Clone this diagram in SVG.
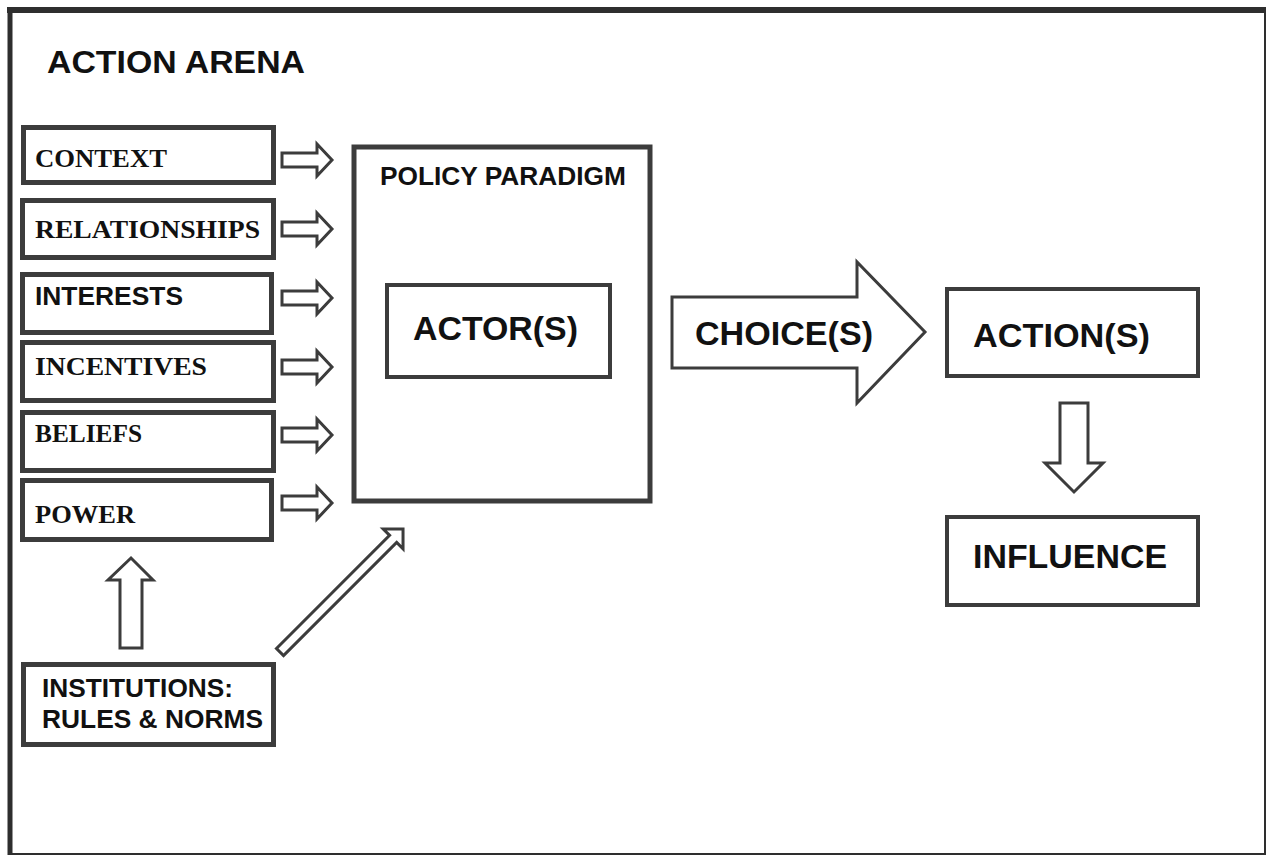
<svg xmlns="http://www.w3.org/2000/svg" width="1266" height="855" viewBox="0 0 1266 855">
<style>
.box{fill:#fff;stroke:#3c3c3c;stroke-width:5}
.box4{fill:#fff;stroke:#3c3c3c;stroke-width:4}
.arr{fill:#fff;stroke:#3c3c3c;stroke-width:3;stroke-linejoin:miter}
.frame{stroke:#2e2e2e;fill:none}
.sans{font-family:"Liberation Sans",Arial,sans-serif;font-weight:bold;fill:#111}
.serif{font-family:"Liberation Serif","Times New Roman",serif;font-weight:bold;fill:#111}
</style>
<rect x="0" y="0" width="1266" height="855" fill="#fff"/>
<g id="frame">
<line class="frame" x1="7" y1="10" x2="1266" y2="10" stroke-width="6"/>
<line class="frame" x1="10" y1="7" x2="10" y2="855" stroke-width="5"/>
<line class="frame" x1="1265" y1="10" x2="1265" y2="855" stroke-width="2"/>
<line class="frame" x1="10" y1="854" x2="1266" y2="854" stroke-width="2" stroke="#555"/>
<text class="sans" x="47" y="73" font-size="32" textLength="258" lengthAdjust="spacingAndGlyphs">ACTION ARENA</text>
</g>
<g id="context">
<rect class="box" x="23.5" y="127.5" width="250" height="55"/>
<text class="serif" x="35" y="167" font-size="25" textLength="132" lengthAdjust="spacingAndGlyphs">CONTEXT</text>
</g>
<g id="relationships">
<rect class="box" x="22.5" y="200.5" width="251" height="57"/>
<text class="serif" x="35" y="238" font-size="25" textLength="225" lengthAdjust="spacingAndGlyphs">RELATIONSHIPS</text>
</g>
<g id="interests">
<rect class="box" x="22.5" y="274.5" width="249" height="58"/>
<text class="sans" x="35" y="305" font-size="25" textLength="148" lengthAdjust="spacingAndGlyphs">INTERESTS</text>
</g>
<g id="incentives">
<rect class="box" x="22.5" y="342.5" width="251" height="58"/>
<text class="serif" x="35" y="375" font-size="25" textLength="172" lengthAdjust="spacingAndGlyphs">INCENTIVES</text>
</g>
<g id="beliefs">
<rect class="box" x="22.5" y="412.5" width="251" height="58"/>
<text class="serif" x="35" y="442" font-size="25" textLength="107" lengthAdjust="spacingAndGlyphs">BELIEFS</text>
</g>
<g id="power">
<rect class="box" x="22.5" y="480.5" width="249" height="59"/>
<text class="serif" x="35" y="523" font-size="25" textLength="100" lengthAdjust="spacingAndGlyphs">POWER</text>
</g>
<g id="institutions">
<rect class="box" x="23.5" y="664.5" width="250" height="80"/>
<text class="sans" x="42" y="697" font-size="26" textLength="191" lengthAdjust="spacingAndGlyphs">INSTITUTIONS:</text>
<text class="sans" x="42" y="728" font-size="26" textLength="221" lengthAdjust="spacingAndGlyphs">RULES &amp; NORMS</text>
</g>
<g id="policy-paradigm">
<rect class="box" x="354" y="147" width="296" height="354" stroke-width="4.5"/>
<text class="sans" x="380" y="185" font-size="25" textLength="246" lengthAdjust="spacingAndGlyphs">POLICY PARADIGM</text>
</g>
<g id="actors">
<rect class="box4" x="387" y="285" width="223" height="92"/>
<text class="sans" x="413" y="340" font-size="33" textLength="165" lengthAdjust="spacingAndGlyphs">ACTOR(S)</text>
</g>
<g id="actions">
<rect class="box4" x="947" y="289" width="251" height="87"/>
<text class="sans" x="973" y="347" font-size="33" textLength="177" lengthAdjust="spacingAndGlyphs">ACTION(S)</text>
</g>
<g id="influence">
<rect class="box4" x="947" y="517" width="251" height="88"/>
<text class="sans" x="973" y="568" font-size="33" textLength="194" lengthAdjust="spacingAndGlyphs">INFLUENCE</text>
</g>
<g id="connectors">
<defs>
<polygon id="small" class="arr" points="0,-7 35,-7 35,-16 50,0 35,16 35,7 0,7"/>
</defs>
<use href="#small" x="282" y="160"/>
<use href="#small" x="282" y="229"/>
<use href="#small" x="282" y="298"/>
<use href="#small" x="282" y="367"/>
<use href="#small" x="282" y="435"/>
<use href="#small" x="282" y="503"/>
<polygon class="arr" points="120,648 120,580 108,580 131,558 153,580 142,580 142,648"/>
<polygon class="arr" transform="translate(280,652) rotate(-45)" points="0,-5 160,-5 160,-14 174,0 160,14 160,5 0,5"/>
<polygon class="arr" points="1060,403 1088,403 1088,463 1103,463 1074,492 1045,463 1060,463"/>
<g id="choices">
<polygon class="arr" points="672,297 857,297 857,262 925,332 857,403 857,368 672,368"/>
<text class="sans" x="695" y="345" font-size="33" textLength="178" lengthAdjust="spacingAndGlyphs">CHOICE(S)</text>
</g>
</g>
</svg>
